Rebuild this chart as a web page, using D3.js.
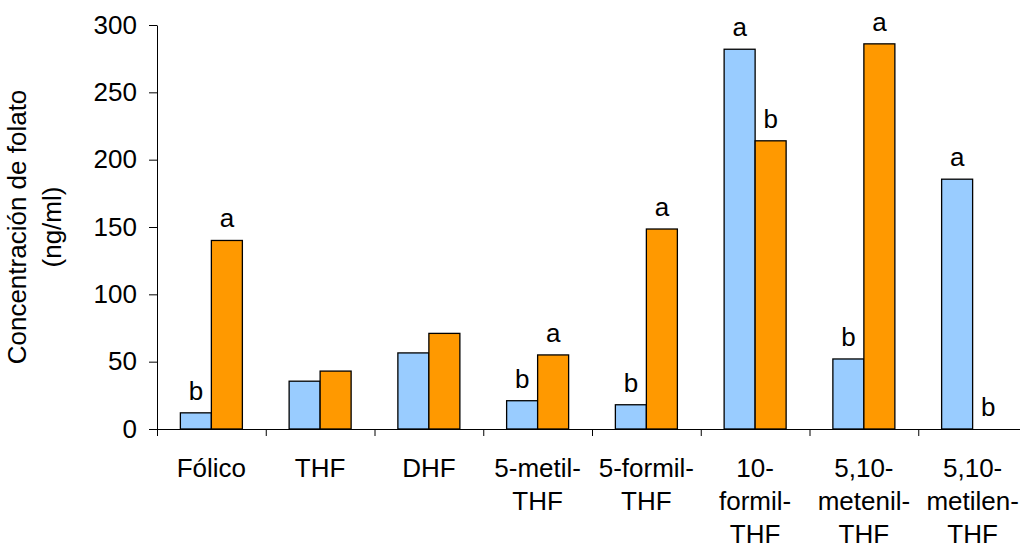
<!DOCTYPE html>
<html>
<head>
<meta charset="utf-8">
<script src="https://cdn.jsdelivr.net/npm/d3@7"></script>
<style>
  body { margin: 0; background: #fff; }
  text { font-family: "Liberation Sans", Arial, sans-serif; fill: #000; }
</style>
</head>
<body>
<script>
// categories and their (multi-line) tick labels
const categories = ["Fólico", "THF", "DHF", "5-metil-THF", "5-formil-THF", "10-formil-THF", "5,10-metenil-THF", "5,10-metilen-THF"];
const tickLines = [["Fólico"], ["THF"], ["DHF"], ["5-metil-", "THF"], ["5-formil-", "THF"],
                   ["10-", "formil-", "THF"], ["5,10-", "metenil-", "THF"], ["5,10-", "metilen-", "THF"]];
// blue and orange series
const seriesBlue = [12, 35.5, 56.5, 21, 18, 282, 52, 185.5];
const seriesOrange = [140, 43, 71, 55, 148.5, 214, 286, 0];
const lettersBlue = ["b", "", "", "b", "b", "a", "b", "a"];
const lettersOrange = ["a", "", "", "a", "a", "b", "a", "b"];
const yTicks = [0, 50, 100, 150, 200, 250, 300];

const width = 1020, height = 545;
const left = 157, step = 108.75;

const svg = d3.select("body").append("svg")
    .attr("width", width)
    .attr("height", height);

const x = d3.scaleBand()
    .domain(categories)
    .range([left, left + step * categories.length]);

const sub = d3.scaleBand()
    .domain(["blue", "orange"])
    .range([0, x.bandwidth()])
    .paddingOuter(0.754);

const y = d3.scaleLinear()
    .domain([0, 300])
    .range([429, 25]);

const color = { blue: "#99CCFF", orange: "#FF9900" };

// rows for bars
const rows = [];
categories.forEach((c, i) => {
    rows.push({ cat: c, key: "blue", value: seriesBlue[i], letter: lettersBlue[i] });
    rows.push({ cat: c, key: "orange", value: seriesOrange[i], letter: lettersOrange[i] });
});

svg.append("g")
    .selectAll("rect")
    .data(rows)
    .enter()
    .append("rect")
    .attr("x", d => x(d.cat) + sub(d.key))
    .attr("y", d => y(d.value))
    .attr("width", sub.bandwidth())
    .attr("height", d => y(0) - y(d.value))
    .attr("fill", d => color[d.key])
    .attr("stroke", "#000")
    .attr("stroke-width", 1.3);

// letters above bars
svg.append("g")
    .selectAll("text")
    .data(rows.filter(d => d.letter))
    .enter()
    .append("text")
    .attr("x", d => x(d.cat) + sub(d.key) + sub.bandwidth() / 2)
    .attr("y", d => y(d.value) - 13)
    .attr("text-anchor", "middle")
    .style("font-size", "26px")
    .text(d => d.letter);

// y axis
const yAxis = svg.append("g")
    .attr("transform", `translate(${left},0)`)
    .call(d3.axisLeft(y).tickValues(yTicks).tickSize(8).tickSizeOuter(0).tickPadding(12));
yAxis.selectAll("text").style("font-size", "26px").attr("fill", "#000");
yAxis.selectAll("line,path").attr("stroke", "#000");

// x axis with ticks on category boundaries
const xb = d3.scaleLinear().domain([0, categories.length]).range(x.range());
const xAxis = svg.append("g")
    .attr("transform", `translate(0,${y(0)})`)
    .call(d3.axisBottom(xb).ticks(categories.length).tickFormat("").tickSize(7).tickSizeOuter(0));
xAxis.selectAll("line,path").attr("stroke", "#000");

// category labels
const labels = svg.append("g")
    .selectAll("text")
    .data(categories)
    .enter()
    .append("text")
    .attr("text-anchor", "middle")
    .style("font-size", "26px");
labels.each(function (d, i) {
    d3.select(this).selectAll("tspan")
        .data(tickLines[i])
        .enter()
        .append("tspan")
        .attr("x", x(d) + x.bandwidth() / 2)
        .attr("y", (t, j) => 477 + j * 33)
        .text(t => t);
});

// y title
const titleLines = ["Concentración de folato", "(ng/ml)"];
svg.append("g")
    .selectAll("text")
    .data(titleLines)
    .enter()
    .append("text")
    .attr("transform", (d, i) => `translate(${26 + i * 35},${(y(0) + y(300)) / 2}) rotate(-90)`)
    .attr("text-anchor", "middle")
    .style("font-size", "26px")
    .text(d => d);
</script>
</body>
</html>
